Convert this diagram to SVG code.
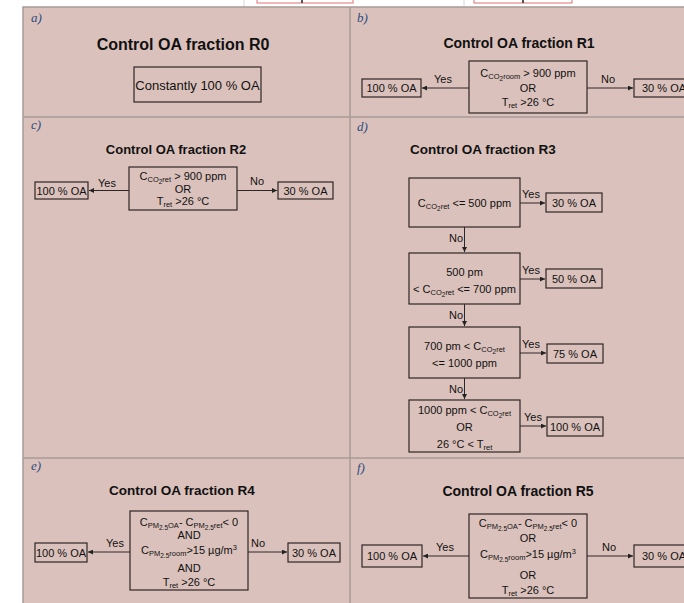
<svg xmlns="http://www.w3.org/2000/svg" width="684" height="603" viewBox="0 0 684 603">
<defs>
<style>
.pl{font-family:"Liberation Serif",serif;font-style:italic;font-size:13px;fill:#2b4c7e}
.t{font-family:"Liberation Sans",Arial,sans-serif;font-weight:bold;text-anchor:middle;fill:#111}
.x{font-family:"Liberation Sans",Arial,sans-serif;font-size:11px;text-anchor:middle;fill:#111}
.l{font-family:"Liberation Sans",Arial,sans-serif;font-size:11px;fill:#111}
.s{font-size:7.5px}
.ss{font-size:6.5px}
.b{fill:none;stroke:#2e2626;stroke-width:1.2}
.c{fill:none;stroke:#2e2626;stroke-width:1;marker-end:url(#ah)}
.dv{stroke:#a89b97;stroke-width:1.5;fill:none}
.bg{fill:#dbc1bc;stroke:#a89b97;stroke-width:1.5}
</style>
<marker id="ah" viewBox="0 0 6 6" refX="6" refY="3" markerWidth="5" markerHeight="5" orient="auto" markerUnits="userSpaceOnUse"><path d="M0,0 L6,3 L0,6 z" fill="#222"/></marker>
</defs>
<rect x="0" y="0" width="684" height="603" fill="#ffffff"/>
<g id="above">
<line x1="244" y1="0" x2="244" y2="7" stroke="#d8d8d8"/>
<line x1="464" y1="0" x2="464" y2="7" stroke="#d8d8d8"/>
<rect x="257" y="-10" width="96" height="13" fill="none" stroke="#e07070" stroke-width="1"/>
<rect x="474" y="-10" width="98" height="13" fill="none" stroke="#e07070" stroke-width="1"/>
<line x1="302" y1="0" x2="302" y2="3" stroke="#222" stroke-width="1.5"/>
<line x1="523" y1="0" x2="523" y2="3" stroke="#222" stroke-width="1.5"/>
</g>
<g id="panels">
<rect x="23" y="7" width="670" height="605" class="bg"/>
<line x1="350" y1="7" x2="350" y2="603" class="dv"/>
<line x1="23" y1="117" x2="684" y2="117" class="dv"/>
<line x1="23" y1="458" x2="684" y2="458" class="dv"/>
<text class="pl" x="31" y="22">a)</text>
<text class="pl" x="357" y="22">b)</text>
<text class="pl" x="31" y="129">c)</text>
<text class="pl" x="357" y="131">d)</text>
<text class="pl" x="31" y="470">e)</text>
<text class="pl" x="357" y="472">f)</text>
<text class="t" x="183" y="50" font-size="16">Control OA fraction R0</text>
<text class="t" x="519" y="48" font-size="14">Control OA fraction R1</text>
<text class="t" x="176" y="154" font-size="13">Control OA fraction R2</text>
<text class="t" x="483" y="154" font-size="13.5">Control OA fraction R3</text>
<text class="t" x="182" y="495" font-size="13.5">Control OA fraction R4</text>
<text class="t" x="518" y="496" font-size="14">Control OA fraction R5</text>
</g>
<g id="a-box"><rect class="b" x="134" y="67" width="127" height="35"/><text class="x" x="197.5" y="89.5" style="font-size:13px">Constantly 100 % OA</text></g>
<g id="b-cond"><rect class="b" x="469" y="61" width="118" height="52"/>
<text class="x" x="528" y="77">C<tspan class="s" dy="2">CO</tspan><tspan class="ss" dy="2">2</tspan><tspan class="s" dy="-2">room</tspan><tspan dy="-2"> &gt; 900 ppm</tspan></text>
<text class="x" x="528" y="92">OR</text>
<text class="x" x="528" y="106">T<tspan class="s" dy="2">ret</tspan><tspan dy="-2"> &gt;26 °C</tspan></text></g>
<g id="b-yes"><rect class="b" x="362" y="79" width="59" height="18"/><text class="x" x="391.5" y="92">100 % OA</text></g>
<g id="b-no"><rect class="b" x="634" y="79" width="70" height="18"/><text class="l" x="642" y="92">30 % OA</text></g>
<g id="c-cond"><rect class="b" x="129" y="167" width="108" height="43"/>
<text class="x" x="183" y="179.5">C<tspan class="s" dy="2">CO</tspan><tspan class="ss" dy="2">2</tspan><tspan class="s" dy="-2">ret</tspan><tspan dy="-2"> &gt; 900 ppm</tspan></text>
<text class="x" x="183" y="192.5">OR</text>
<text class="x" x="183" y="205">T<tspan class="s" dy="2">ret</tspan><tspan dy="-2"> &gt;26 °C</tspan></text></g>
<g id="c-yes"><rect class="b" x="35" y="182" width="53" height="17"/><text class="x" x="61.5" y="194.5">100 % OA</text></g>
<g id="c-no"><rect class="b" x="278" y="182" width="55" height="17"/><text class="x" x="305.5" y="194.5">30 % OA</text></g>
<g id="d-c1"><rect class="b" x="409" y="178" width="111" height="49"/>
<text class="x" x="464.5" y="207">C<tspan class="s" dy="2">CO</tspan><tspan class="ss" dy="2">2</tspan><tspan class="s" dy="-2">ret</tspan><tspan dy="-2"> &lt;= 500 ppm</tspan></text></g>
<g id="d-r1"><rect class="b" x="546" y="193" width="56" height="19"/><text class="x" x="574" y="206.5">30 % OA</text></g>
<g id="d-c2"><rect class="b" x="409" y="253" width="111" height="51"/>
<text class="x" x="464.5" y="276">500 pm</text>
<text class="x" x="464.5" y="293">&lt; C<tspan class="s" dy="2">CO</tspan><tspan class="ss" dy="2">2</tspan><tspan class="s" dy="-2">ret</tspan><tspan dy="-2"> &lt;= 700 ppm</tspan></text></g>
<g id="d-r2"><rect class="b" x="546" y="269" width="56" height="19"/><text class="x" x="574" y="282.5">50 % OA</text></g>
<g id="d-c3"><rect class="b" x="409" y="327" width="111" height="51"/>
<text class="x" x="464.5" y="350">700 pm &lt; C<tspan class="s" dy="2">CO</tspan><tspan class="ss" dy="2">2</tspan><tspan class="s" dy="-2">ret</tspan></text>
<text class="x" x="464.5" y="367">&lt;= 1000 ppm</text></g>
<g id="d-r3"><rect class="b" x="547" y="344" width="56" height="19"/><text class="x" x="575" y="357.5">75 % OA</text></g>
<g id="d-c4"><rect class="b" x="409" y="400" width="111" height="52"/>
<text class="x" x="464.5" y="414">1000 ppm &lt; C<tspan class="s" dy="2">CO</tspan><tspan class="ss" dy="2">2</tspan><tspan class="s" dy="-2">ret</tspan></text>
<text class="x" x="464.5" y="431">OR</text>
<text class="x" x="464.5" y="448">26 °C &lt; T<tspan class="s" dy="2">ret</tspan></text></g>
<g id="d-r4"><rect class="b" x="547" y="417" width="56" height="19"/><text class="x" x="575" y="430.5">100 % OA</text></g>
<g id="e-cond"><rect class="b" x="130" y="511" width="118" height="79"/>
<text class="x" x="189" y="526">C<tspan class="s" dy="2">PM</tspan><tspan class="ss" dy="2">2.5</tspan><tspan class="s" dy="-2">OA</tspan><tspan dy="-2">- C</tspan><tspan class="s" dy="2">PM</tspan><tspan class="ss" dy="2">2.5</tspan><tspan class="s" dy="-2">ret</tspan><tspan dy="-2">&lt; 0</tspan></text>
<text class="x" x="189" y="539">AND</text>
<text class="x" x="189" y="554">C<tspan class="s" dy="2">PM</tspan><tspan class="ss" dy="2">2.5</tspan><tspan class="s" dy="-2">room</tspan><tspan dy="-2">&gt;15 µg/m</tspan><tspan class="s" dy="-4">3</tspan></text>
<text class="x" x="189" y="572">AND</text>
<text class="x" x="189" y="586">T<tspan class="s" dy="2">ret</tspan><tspan dy="-2"> &gt;26 °C</tspan></text></g>
<g id="e-yes"><rect class="b" x="35" y="543" width="52" height="19"/><text class="x" x="61" y="556.5">100 % OA</text></g>
<g id="e-no"><rect class="b" x="288" y="543" width="52" height="19"/><text class="x" x="314" y="556.5">30 % OA</text></g>
<g id="f-cond"><rect class="b" x="469" y="514" width="118" height="84"/>
<text class="x" x="528" y="527">C<tspan class="s" dy="2">PM</tspan><tspan class="ss" dy="2">2.5</tspan><tspan class="s" dy="-2">OA</tspan><tspan dy="-2">- C</tspan><tspan class="s" dy="2">PM</tspan><tspan class="ss" dy="2">2.5</tspan><tspan class="s" dy="-2">ret</tspan><tspan dy="-2">&lt; 0</tspan></text>
<text class="x" x="528" y="542">OR</text>
<text class="x" x="528" y="558">C<tspan class="s" dy="2">PM</tspan><tspan class="ss" dy="2">2.5</tspan><tspan class="s" dy="-2">room</tspan><tspan dy="-2">&gt;15 µg/m</tspan><tspan class="s" dy="-4">3</tspan></text>
<text class="x" x="528" y="579">OR</text>
<text class="x" x="528" y="594">T<tspan class="s" dy="2">ret</tspan><tspan dy="-2"> &gt;26 °C</tspan></text></g>
<g id="f-yes"><rect class="b" x="362" y="545" width="60" height="22"/><text class="x" x="392" y="560">100 % OA</text></g>
<g id="f-no"><rect class="b" x="634" y="545" width="70" height="22"/><text class="l" x="642" y="560">30 % OA</text></g>
<g id="connectors">
<line class="c" x1="469" y1="88" x2="422" y2="88"/>
<line class="c" x1="587" y1="88" x2="633" y2="88"/>
<text class="x" x="443" y="83">Yes</text>
<text class="x" x="608" y="83">No</text>
<line class="c" x1="129" y1="190.5" x2="89" y2="190.5"/>
<line class="c" x1="237" y1="190.5" x2="277" y2="190.5"/>
<text class="x" x="107" y="187">Yes</text>
<text class="x" x="257" y="185">No</text>
<line class="c" x1="520" y1="203" x2="545" y2="203"/>
<text class="x" x="531" y="198">Yes</text>
<line class="c" x1="464.5" y1="227" x2="464.5" y2="252"/>
<text class="l" x="463" y="242" text-anchor="end">No</text>
<line class="c" x1="520" y1="279" x2="545" y2="279"/>
<text class="x" x="531" y="274">Yes</text>
<line class="c" x1="464.5" y1="304" x2="464.5" y2="326"/>
<text class="l" x="463" y="319" text-anchor="end">No</text>
<line class="c" x1="520" y1="353" x2="546" y2="353"/>
<text class="x" x="531" y="348">Yes</text>
<line class="c" x1="464.5" y1="378" x2="464.5" y2="399"/>
<text class="l" x="463" y="393" text-anchor="end">No</text>
<line class="c" x1="520" y1="426" x2="546" y2="426"/>
<text class="x" x="533" y="421">Yes</text>
<line class="c" x1="130" y1="552" x2="88" y2="552"/>
<line class="c" x1="248" y1="552" x2="287" y2="552"/>
<text class="x" x="115" y="547">Yes</text>
<text class="x" x="258" y="547">No</text>
<line class="c" x1="469" y1="556" x2="423" y2="556"/>
<line class="c" x1="587" y1="556" x2="633" y2="556"/>
<text class="x" x="445" y="551">Yes</text>
<text class="x" x="609" y="551">No</text>
</g>
</svg>
